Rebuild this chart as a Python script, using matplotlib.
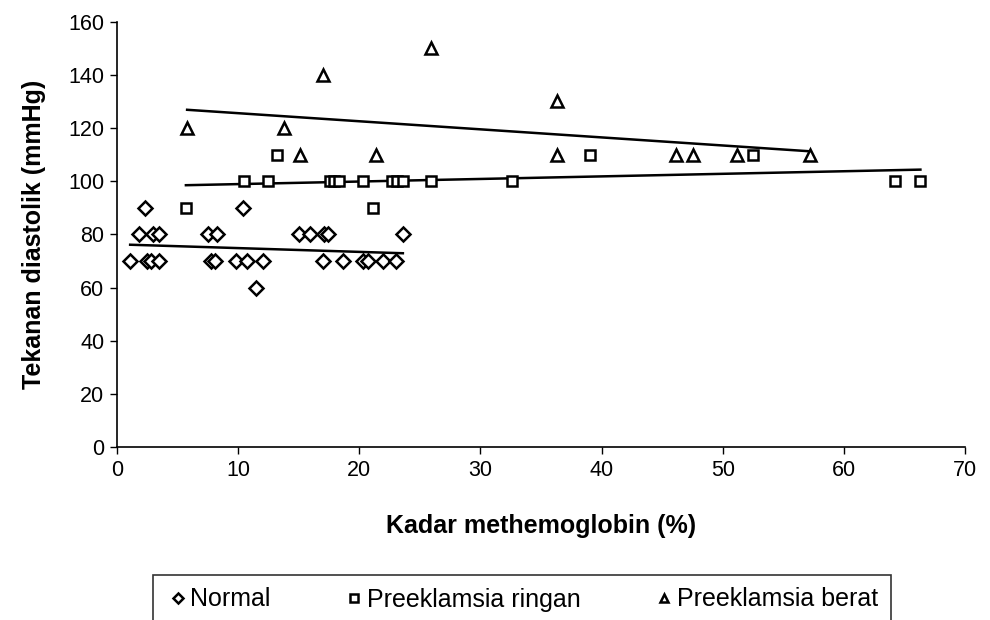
import matplotlib
matplotlib.use('Agg')
import matplotlib.pyplot as plt
import numpy as np

plt.rcParams['font.family'] = ['Liberation Sans', 'DejaVu Sans']

# Normal
normal_x = [2.3, 10.4,
            1.8, 3.0, 3.5, 7.5, 8.3, 15.0, 15.9, 17.1, 17.4, 23.6,
            1.1, 2.5, 2.8, 3.5, 7.8, 8.1, 9.8, 10.7, 12.1, 17.0, 18.7, 20.3, 20.7, 22.0, 23.0,
            11.5]
normal_y = [90, 90,
            80, 80, 80, 80, 80, 80, 80, 80, 80, 80,
            70, 70, 70, 70, 70, 70, 70, 70, 70, 70, 70, 70, 70, 70, 70,
            60]

# Preeklamsia ringan
ringan_x = [5.7, 21.1,
            10.5, 12.5, 17.6, 17.9, 18.3, 20.3, 22.7, 23.1, 23.6, 25.9, 32.6, 64.2, 66.3,
            13.2, 39.0, 52.5]
ringan_y = [90, 90,
            100, 100, 100, 100, 100, 100, 100, 100, 100, 100, 100, 100, 100,
            110, 110, 110]

# Preeklamsia berat
berat_x = [5.8, 13.8, 15.1, 17.0, 21.4, 25.9, 36.3, 36.3, 46.1, 47.5, 51.2, 57.2]
berat_y = [120, 120, 110, 140, 110, 150, 130, 110, 110, 110, 110, 110]

labels = ['Normal', 'Preeklamsia ringan', 'Preeklamsia berat']
markers = ['D', 's', '^']
sizes = [7.5, 7.5, 9]

fig = plt.figure(figsize=(9.9, 6.2), dpi=100)
ax = fig.add_axes([0.118, 0.279, 0.857, 0.686])

groups = [(normal_x, normal_y), (ringan_x, ringan_y), (berat_x, berat_y)]
handles = []
for (gx, gy), lab, m, s in zip(groups, labels, markers, sizes):
    gx = np.array(gx)
    gy = np.array(gy)
    h, = ax.plot(gx, gy, linestyle='none', marker=m, markersize=s,
                 markerfacecolor='white', markeredgecolor='black',
                 markeredgewidth=1.8, label=lab)
    handles.append(h)
    # linear trend line
    k, b = np.polyfit(gx, gy, 1)
    xx = np.array([gx.min(), gx.max()])
    ax.plot(xx, k * xx + b, color='black', linewidth=1.8, zorder=1)

ax.set_xlim(0, 70)
ax.set_ylim(0, 160)
ax.set_xticks(np.arange(0, 71, 10))
ax.set_yticks(np.arange(0, 161, 20))
ax.spines['top'].set_visible(False)
ax.spines['right'].set_visible(False)
for sp in ['left', 'bottom']:
    ax.spines[sp].set_linewidth(1.2)
ax.tick_params(direction='out', length=5, width=1.0, labelsize=15.5, pad=4)

ax.set_xlabel('Kadar methemoglobin (%)', fontsize=18, fontweight='bold', labelpad=24)
ax.set_ylabel('Tekanan diastolik (mmHg)', fontsize=18, fontweight='bold', labelpad=16)

leg = fig.legend(handles=handles, labels=labels, loc='upper center',
                 bbox_to_anchor=(0.527, 1 - 575 / 620), ncol=3, fontsize=18,
                 frameon=True, fancybox=False, edgecolor='black',
                 handletextpad=0.0, columnspacing=2.85, markerscale=0.7,
                 handlelength=1.0, borderpad=0.5, borderaxespad=0)
leg.get_frame().set_linewidth(1.2)

fig.savefig('out.png', dpi=100)
